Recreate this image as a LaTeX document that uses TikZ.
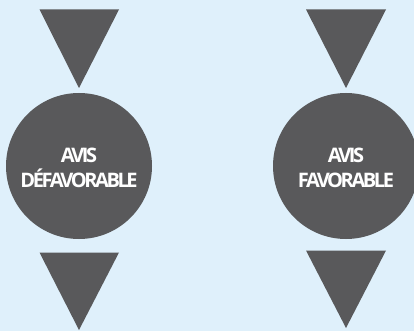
\documentclass[tikz,border=0pt]{standalone}
\usepackage{fontspec}
\setmainfont{Open Sans}[LetterSpace=-12]
\definecolor{bg}{HTML}{DFF0FB}
\definecolor{shape}{HTML}{59595B}
\begin{document}
\begin{tikzpicture}[x=1pt,y=-1pt,
  tri/.style={fill=shape,draw=none},
  disc/.style={circle,fill=shape,draw=none,minimum size=146pt,inner sep=0pt},
  disclabel/.style={text=white,font=\fontsize{20}{24.5}\selectfont\bfseries,align=center,inner sep=0pt}]
\fill[bg] (0,0) rectangle (414,331);
\useasboundingbox (0,0) rectangle (414,331);
% left column
\coordinate (lt1) at (39.5,9.5); \coordinate (lt2) at (119,9.5); \coordinate (lta) at (79,88);
\fill[tri] (lt1) -- (lt2) -- (lta) -- cycle;
\node[disc] (left) at (79,166) {};
\node[disclabel] (lefttext) at (79,168) {AVIS\\DÉFAVORABLE};
\coordinate (lb1) at (39.5,252.5); \coordinate (lb2) at (119,252.5); \coordinate (lba) at (79,330);
\fill[tri] (lb1) -- (lb2) -- (lba) -- cycle;
% right column
\coordinate (rt1) at (306,9.5); \coordinate (rt2) at (386,9.5); \coordinate (rta) at (346,88);
\fill[tri] (rt1) -- (rt2) -- (rta) -- cycle;
\node[disc] (right) at (346,166) {};
\node[disclabel] (righttext) at (346,168) {AVIS\\FAVORABLE};
\coordinate (rb1) at (306,250.5); \coordinate (rb2) at (386,250.5); \coordinate (rba) at (346,328);
\fill[tri] (rb1) -- (rb2) -- (rba) -- cycle;
\end{tikzpicture}
\end{document}
